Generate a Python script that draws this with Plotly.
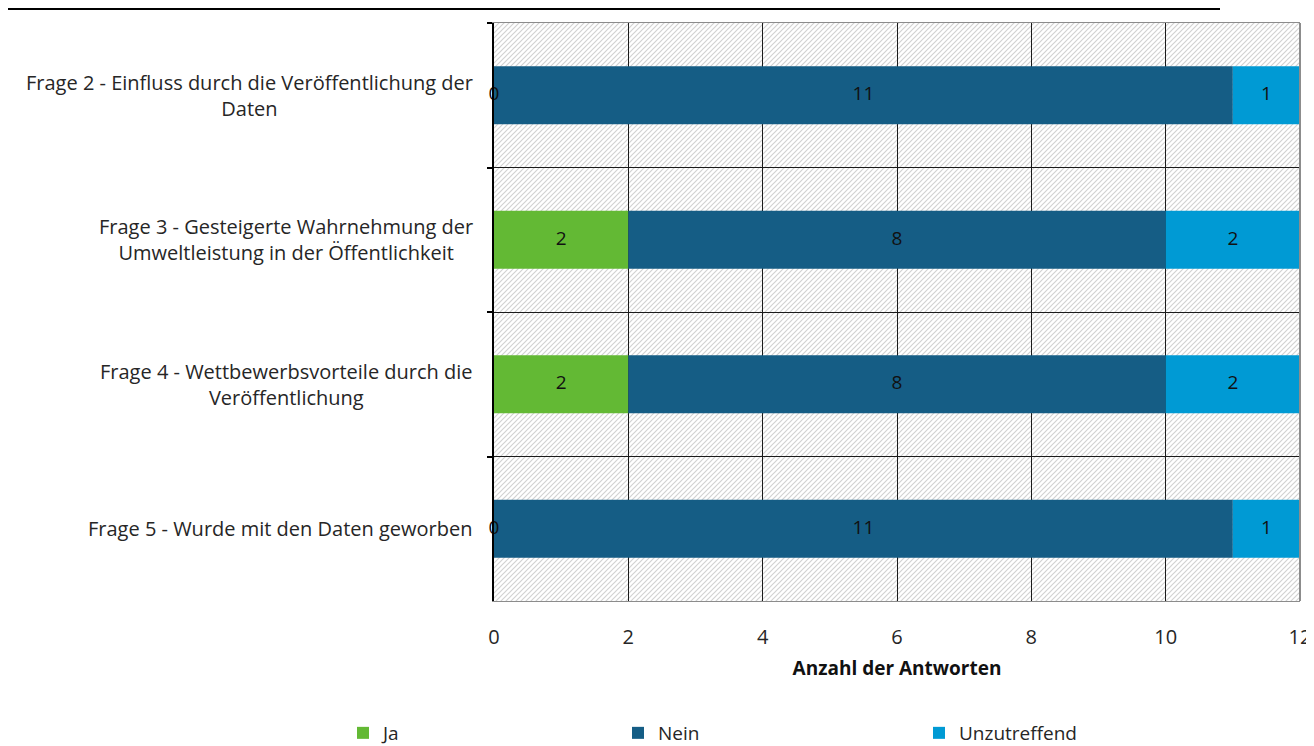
import base64
import plotly.graph_objects as go

categories = [
    "Frage 2 - Einfluss durch die Veröffentlichung der<br>Daten",
    "Frage 3 - Gesteigerte Wahrnehmung der<br>Umweltleistung in der Öffentlichkeit",
    "Frage 4 - Wettbewerbsvorteile durch die<br>Veröffentlichung",
    "Frage 5 - Wurde mit den Daten geworben",
]
ja = [0, 2, 2, 0]
nein = [11, 8, 8, 11]
unzutreffend = [1, 2, 2, 1]
series_names = ["Ja", "Nein", "Unzutreffend"]
x_ticks = [0, 2, 4, 6, 8, 10, 12]
x_title = "Anzahl der Antworten"

colors = ["#63B934", "#155D85", "#009AD4"]
FONT = "Open Sans"
TXT = "#262626"

fig = go.Figure()
series = [ja, nein, unzutreffend]
legends = ["legend", "legend2", "legend3"]
bases = [0] * len(categories)
label_x, label_y, label_t = [], [], []
for name, vals, col, lg in zip(series_names, series, colors, legends):
    fig.add_trace(go.Bar(
        name=name, y=categories, x=vals, base=bases, orientation="h",
        marker=dict(color=col, line=dict(width=0)), width=0.4, legend=lg,
        hoverinfo="x+name",
    ))
    for c, b, v in zip(categories, bases, vals):
        label_x.append(b + v / 2)
        label_y.append(c)
        label_t.append(str(v))
    bases = [b + v for b, v in zip(bases, vals)]

fig.add_trace(go.Scatter(
    x=label_x, y=label_y, text=label_t, mode="text", showlegend=False,
    cliponaxis=False,
    textfont=dict(family=FONT, size=19, color="#111111"), hoverinfo="skip",
))

# page has an 8px body margin: work in reference pixels minus 8
OFF = 8
FW, FH = 1314 - OFF, 746 - OFF
L, T = 494 - OFF, 23 - OFF
R = FW - (1300 - OFF)
B = FH - (601 - OFF)
PW, PH = FW - L - R, FH - T - B

def px(x):
    return (x - OFF - L) / PW

def py(y):
    return (FH - B - (y - OFF)) / PH

# hatch background as an SVG image
svg = (
    f'<svg xmlns="http://www.w3.org/2000/svg" width="{PW}" height="{PH}">'
    '<defs><pattern id="p" width="5" height="5" patternUnits="userSpaceOnUse">'
    '<path d="M-1,1 l2,-2 M0,5 l5,-5 M4,6 l2,-2" stroke="#d2d2d2" stroke-width="1.2"/>'
    '</pattern></defs>'
    f'<rect width="{PW}" height="{PH}" fill="white"/>'
    f'<rect width="{PW}" height="{PH}" fill="url(#p)"/></svg>'
)
uri = "data:image/svg+xml;base64," + base64.b64encode(svg.encode()).decode()
fig.add_layout_image(dict(
    source=uri, xref="paper", yref="paper", x=0, y=1, sizex=1, sizey=1,
    xanchor="left", yanchor="top", sizing="stretch", layer="below",
))

# category labels (centered multi-line)
for c in categories:
    fig.add_annotation(
        x=0, y=c, xref="x", yref="y", text=c, showarrow=False,
        xanchor="right", xshift=-19, align="center",
        font=dict(family=FONT, size=20, color=TXT),
    )

# top rule line
fig.add_shape(type="line", xref="paper", yref="paper",
              x0=px(2), x1=px(1220), y0=py(9), y1=py(9),
              line=dict(color="black", width=2))
# right border
fig.add_shape(type="line", xref="paper", yref="paper",
              x0=1, x1=1, y0=0, y1=1, line=dict(color="#8c8c8c", width=2), layer="above")

leg_common = dict(orientation="h", yanchor="middle", xanchor="left",
                  font=dict(family=FONT, size=19, color=TXT),
                  bgcolor="rgba(0,0,0,0)", itemwidth=30)
fig.update_layout(
    width=FW, height=FH,
    margin=dict(l=L, r=R, t=T, b=B, autoexpand=False),
    paper_bgcolor="white", plot_bgcolor="white",
    barmode="overlay", showlegend=True,
    font=dict(family=FONT, size=19, color=TXT),
    legend=dict(x=px(343), y=py(733), **leg_common),
    legend2=dict(x=px(618), y=py(733), **leg_common),
    legend3=dict(x=px(919), y=py(733), **leg_common),
    xaxis=dict(
        range=[0, 12], tickvals=x_ticks, showgrid=True, gridcolor="#1a1a1a",
        gridwidth=1, zeroline=False, showline=True, linecolor="#8c8c8c",
        linewidth=1, mirror=True, ticks="", ticklabelstandoff=18,
        tickfont=dict(family=FONT, size=20, color=TXT),
        title=dict(text="<b>" + x_title + "</b>", standoff=12,
                   font=dict(family=FONT, size=19, color="#111111")),
        fixedrange=True,
    ),
    yaxis=dict(
        type="category", categoryarray=categories, autorange="reversed",
        tickson="boundaries", ticks="outside", ticklen=5, tickcolor="black",
        tickwidth=2, showgrid=True, gridcolor="#1a1a1a", gridwidth=1,
        showline=True, linecolor="black", linewidth=2, showticklabels=False,
        zeroline=False, fixedrange=True,
    ),
)

fig.write_html("out.html")
